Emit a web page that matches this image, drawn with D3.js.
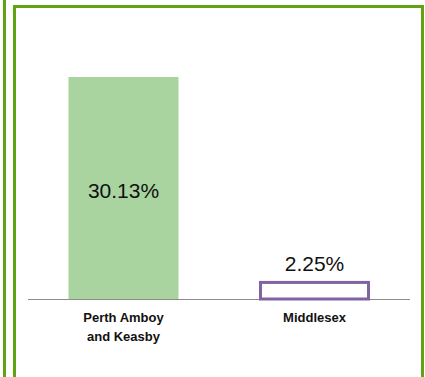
<!DOCTYPE html>
<html>
<head>
<meta charset="utf-8">
<script src="https://cdn.jsdelivr.net/npm/d3@7"></script>
<style>
  body { margin: 0; background: #fff; }
  svg { display: block; }
  .value-label { font-family: "Liberation Sans", Arial, sans-serif; font-size: 21px; fill: #111; }
  .cat-label { font-family: "Liberation Sans", Arial, sans-serif; font-size: 13px; font-weight: bold; fill: #111; }
</style>
</head>
<body>
<script>
var svgWidth = 425;
var svgHeight = 377;

// data
var categories = ["Perth Amboy and Keasby", "Middlesex"];
var labelLines = [["Perth Amboy", "and Keasby"], ["Middlesex"]];
var values = [30.13, 2.25];
var valueText = ["30.13%", "2.25%"];

var baseY = 299;

var svg = d3
  .select("body")
  .append("svg")
  .attr("width", svgWidth)
  .attr("height", svgHeight);

// neighbouring panel edge on the left
svg.append("line")
  .attr("x1", 4.5).attr("x2", 4.5)
  .attr("y1", 0).attr("y2", svgHeight)
  .attr("stroke", "#62A314")
  .attr("stroke-width", 3);

// panel border
svg.append("rect")
  .attr("x", 14.5)
  .attr("y", 6.5)
  .attr("width", 408)
  .attr("height", 400)
  .attr("fill", "none")
  .attr("stroke", "#62A314")
  .attr("stroke-width", 3);

var xScale = d3.scaleBand()
  .domain(categories)
  .range([28, 410])
  .paddingInner(0.424)
  .paddingOuter(0.212);

var yScale = d3.scaleLinear()
  .domain([0, 35])
  .range([baseY, baseY - 35 * 7.368]);

var data = categories.map(function(c, i) {
  return { cat: c, value: values[i], text: valueText[i], lines: labelLines[i] };
});

// baseline
svg.append("line")
  .attr("x1", 28).attr("x2", 410)
  .attr("y1", baseY + 0.5).attr("y2", baseY + 0.5)
  .attr("stroke", "#8c8c8c")
  .attr("stroke-width", 1);

// first bar: filled green
svg.append("rect")
  .attr("x", xScale(data[0].cat))
  .attr("y", yScale(data[0].value))
  .attr("width", xScale.bandwidth())
  .attr("height", baseY - yScale(data[0].value))
  .attr("fill", "#A9D4A0");

// second bar: purple outline
svg.append("rect")
  .attr("x", xScale(data[1].cat) + 1)
  .attr("y", yScale(data[1].value))
  .attr("width", xScale.bandwidth() - 2)
  .attr("height", baseY - yScale(data[1].value))
  .attr("fill", "#fff")
  .attr("stroke", "#8064A2")
  .attr("stroke-width", 3);

// value labels
svg.append("text")
  .attr("class", "value-label")
  .attr("x", xScale(data[0].cat) + xScale.bandwidth() / 2)
  .attr("y", (yScale(data[0].value) + baseY) / 2 + 10)
  .attr("text-anchor", "middle")
  .text(data[0].text);

svg.append("text")
  .attr("class", "value-label")
  .attr("x", xScale(data[1].cat) + xScale.bandwidth() / 2)
  .attr("y", yScale(data[1].value) - 11)
  .attr("text-anchor", "middle")
  .text(data[1].text);

// category labels
data.forEach(function(d) {
  var t = svg.append("text")
    .attr("class", "cat-label")
    .attr("text-anchor", "middle");
  d.lines.forEach(function(line, j) {
    t.append("tspan")
      .attr("x", xScale(d.cat) + xScale.bandwidth() / 2)
      .attr("y", 322 + j * 18.5)
      .text(line);
  });
});
</script>
</body>
</html>
